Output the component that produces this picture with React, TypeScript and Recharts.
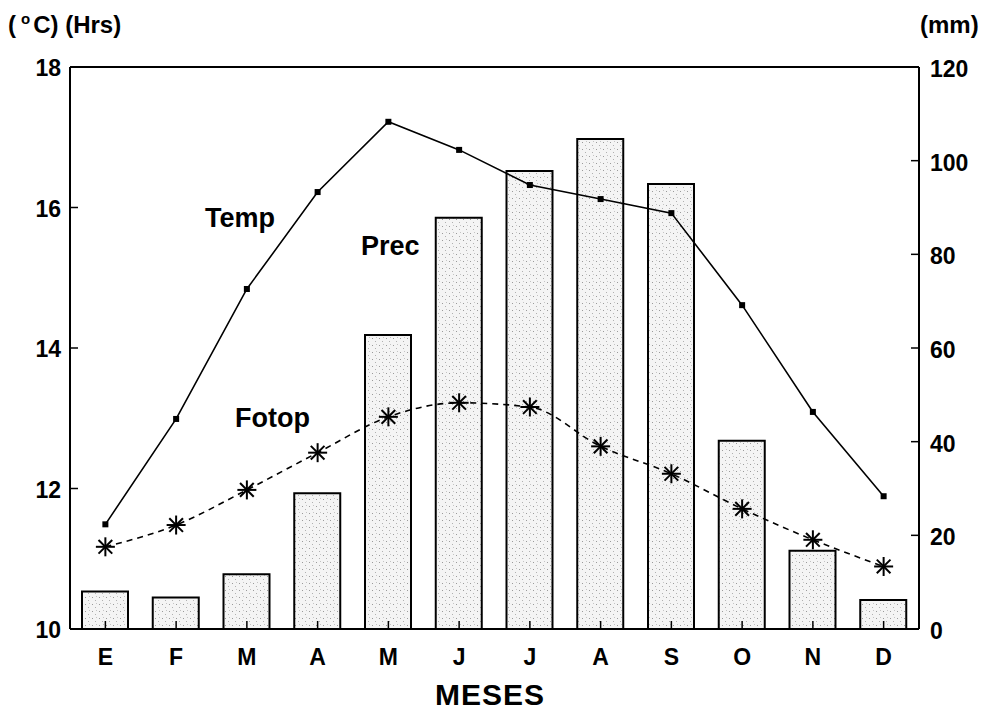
import React from 'react';
import { ComposedChart, Bar, Line, XAxis, YAxis, ReferenceLine } from 'recharts';

// Clima mensual: precipitación (barras), temperatura y fotoperiodo (líneas).
const MESES = ['E', 'F', 'M', 'A', 'M', 'J', 'J', 'A', 'S', 'O', 'N', 'D'];
const PREC = [8, 6.7, 11.7, 29, 62.8, 87.8, 97.8, 104.6, 95, 40.2, 16.7, 6.2];
const TEMP = [11.49, 12.99, 14.84, 16.22, 17.22, 16.82, 16.32, 16.12, 15.92, 14.61, 13.09, 11.89];
const FOTOP = [11.17, 11.48, 11.98, 12.51, 13.02, 13.22, 13.16, 12.6, 12.21, 11.71, 11.27, 10.89];
const LEFT_TICKS = [10, 12, 14, 16, 18];
const RIGHT_TICKS = [0, 20, 40, 60, 80, 100, 120];

const data = MESES.map((m, i) => ({ key: i, mes: m, prec: PREC[i], temp: TEMP[i], fotop: FOTOP[i] }));

const FONT = '"Liberation Sans", Arial, Helvetica, sans-serif';
const INK = '#000';

const LeftTick = (p: any) => (
  <g>
    <line x1={p.x + 9} x2={p.x + 17} y1={p.y} y2={p.y} stroke={INK} strokeWidth={1.5} />
    <text x={p.x} y={p.y} dy={9} textAnchor="end" fontFamily={FONT} fontWeight="bold" fontSize={23} fill={INK}>
      {p.payload.value}
    </text>
  </g>
);

const RightTick = (p: any) => (
  <g>
    <line x1={p.x - 11} x2={p.x - 19} y1={p.y} y2={p.y} stroke={INK} strokeWidth={1.5} />
    <text x={p.x} y={p.y} dy={10} textAnchor="start" fontFamily={FONT} fontWeight="bold" fontSize={23} fill={INK}>
      {p.payload.value}
    </text>
  </g>
);

const MonthTick = (p: any) => (
  <g>
    <line x1={p.x} x2={p.x} y1={p.y} y2={p.y - 8} stroke={INK} strokeWidth={1.5} />
    <text x={p.x} y={p.y} dy={36} textAnchor="middle" fontFamily={FONT} fontWeight="bold" fontSize={23} fill={INK}>
      {MESES[p.payload.value]}
    </text>
  </g>
);

const SquareDot = (p: any) => (
  <rect key={p.key} x={p.cx - 3} y={p.cy - 3} width={6} height={6} fill={INK} />
);

const StarDot = (p: any) => {
  const { cx, cy } = p;
  const r = 9.5;
  const d = r * 0.72;
  return (
    <g key={p.key} stroke={INK} strokeWidth={2}>
      <line x1={cx - r} x2={cx + r} y1={cy} y2={cy} />
      <line x1={cx} x2={cx} y1={cy - r} y2={cy + r} />
      <line x1={cx - d} x2={cx + d} y1={cy - d} y2={cy + d} />
      <line x1={cx - d} x2={cx + d} y1={cy + d} y2={cy - d} />
    </g>
  );
};

export default function App() {
  return (
    <div style={{ position: 'absolute', left: 0, top: 0, width: 1000, height: 710, background: '#fff' }}>
      <ComposedChart width={1000} height={710} data={data} margin={{ top: 67, right: 0, bottom: 0, left: 0 }}>
        <defs>
          <pattern id="stipple" width="7" height="7" patternUnits="userSpaceOnUse">
            <rect width="7" height="7" fill="#f4f4f4" />
            <rect x="1" y="2" width="1" height="1" fill="#9a9a9a" />
            <rect x="4" y="5" width="1" height="1" fill="#b0b0b0" />
            <rect x="5" y="1" width="1" height="1" fill="#c4c4c4" />
          </pattern>
        </defs>
        <XAxis dataKey="key" type="category" height={81} tickSize={0} tickMargin={0} tick={<MonthTick />}
          tickLine={false} axisLine={{ stroke: INK, strokeWidth: 2 }} interval={0} />
        <YAxis yAxisId="left" orientation="left" width={70} domain={[10, 18]} ticks={LEFT_TICKS}
          tickSize={0} tickMargin={9} tick={<LeftTick />} tickLine={false}
          axisLine={{ stroke: INK, strokeWidth: 2 }} allowDataOverflow />
        <YAxis yAxisId="right" orientation="right" width={81} domain={[0, 120]} ticks={RIGHT_TICKS}
          tickSize={0} tickMargin={11} tick={<RightTick />} tickLine={false}
          axisLine={{ stroke: INK, strokeWidth: 2 }} />
        <ReferenceLine yAxisId="left" y={18} stroke={INK} strokeWidth={2} />
        <Bar yAxisId="right" dataKey="prec" barSize={46} fill="url(#stipple)" stroke={INK} strokeWidth={2}
          isAnimationActive={false} />
        <Line yAxisId="left" type="linear" dataKey="temp" stroke={INK} strokeWidth={1.6}
          dot={<SquareDot />} activeDot={false} isAnimationActive={false} />
        <Line yAxisId="left" type="monotone" dataKey="fotop" stroke={INK} strokeWidth={1.6}
          strokeDasharray="6 5" dot={<StarDot />} activeDot={false} isAnimationActive={false} />
      </ComposedChart>
      <svg width={1000} height={710} style={{ position: 'absolute', left: 0, top: 0, pointerEvents: 'none' }}
        fontFamily={FONT} fill={INK}>
        <text x={8} y={33} fontSize={24} fontWeight="bold">
          (<tspan fontSize={15} dx={5} dy={-9}>o</tspan><tspan dx={3} dy={9}>C) (Hrs)</tspan>
        </text>
        <text x={920} y={33} fontSize={24} fontWeight="bold">(mm)</text>
        <text x={205} y={227} fontSize={27} fontWeight="bold">Temp</text>
        <text x={361} y={255} fontSize={27} fontWeight="bold">Prec</text>
        <text x={235} y={427} fontSize={27} fontWeight="bold">Fotop</text>
        <text x={490} y={705} fontSize={30} fontWeight="bold" textAnchor="middle" letterSpacing={1}>MESES</text>
      </svg>
    </div>
  );
}
